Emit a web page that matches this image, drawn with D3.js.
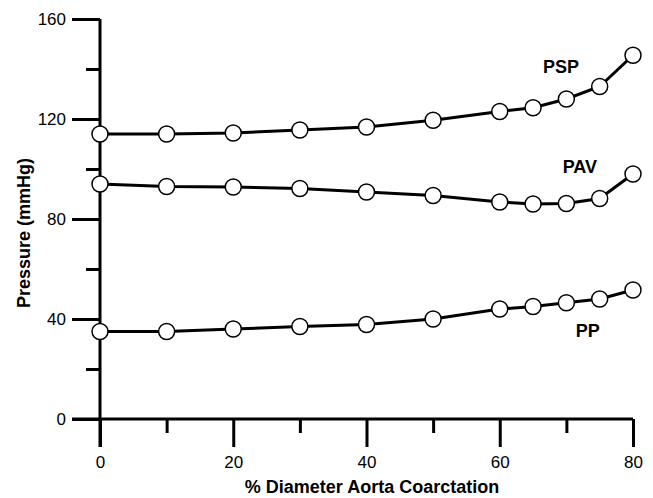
<!DOCTYPE html>
<html>
<head>
<meta charset="utf-8">
<script src="https://cdn.jsdelivr.net/npm/d3@7"></script>
<style>
	body { margin: 0; background: #fff; }
	svg { display: block; font-family: Arial, "Liberation Sans", sans-serif; }
</style>
</head>
<body>
<div id="grafico"></div>
<script>
var coartacion = [0, 10, 20, 30, 40, 50, 60, 65, 70, 75, 80];
var psp = [114, 114, 114.4, 115.6, 116.8, 119.5, 123, 124.5, 128, 133, 145.5];
var pav = [94, 93, 92.8, 92.2, 90.8, 89.4, 86.8, 86, 86.2, 88.2, 98];
var pp = [35, 35, 36, 37, 37.8, 40, 44, 45, 46.5, 48, 51.6];
var nombres = ["PSP", "PAV", "PP"];
var ticksX = [0, 20, 40, 60, 80];
var ticksXmenor = [10, 30, 50, 70];
var ticksY = [0, 40, 80, 120, 160];
var ticksYmenor = [20, 60, 100, 140];

var svgWidth = 653;
var svgHeight = 498;

var svg = d3.select("#grafico")
	.append("svg")
	.attr("width", svgWidth)
	.attr("height", svgHeight);

var x = d3.scaleLinear()
	.domain([0, 80])
	.range([100, 633]);

var y = d3.scaleLinear()
	.domain([0, 160])
	.range([419, 19]);

// ejes
svg.append("g")
	.attr("transform", "translate(0,419)")
	.call(d3.axisBottom(x).tickValues(ticksX).tickSize(28).tickSizeOuter(0).tickPadding(9))
	.call(function(g) {
		g.select(".domain").attr("d", "M72,0H" + x(80)).attr("stroke-width", 3);
		g.selectAll(".tick line").attr("stroke-width", 3);
		g.selectAll(".tick text").attr("font-size", 17).attr("font-family", "Arial, sans-serif").attr("fill", "#000");
	});

svg.append("g")
	.attr("transform", "translate(0,419)")
	.call(d3.axisBottom(x).tickValues(ticksXmenor).tickSize(14).tickFormat(""))
	.call(function(g) {
		g.select(".domain").remove();
		g.selectAll(".tick line").attr("stroke-width", 3);
	});

svg.append("g")
	.attr("transform", "translate(100,0)")
	.call(d3.axisLeft(y).tickValues(ticksY).tickSize(28).tickSizeOuter(0).tickPadding(6))
	.call(function(g) {
		g.select(".domain").attr("d", "M0," + y(160) + "V447").attr("stroke-width", 3);
		g.selectAll(".tick line").attr("stroke-width", 3);
		g.selectAll(".tick text").attr("font-size", 17).attr("font-family", "Arial, sans-serif").attr("fill", "#000");
	});

svg.append("g")
	.attr("transform", "translate(100,0)")
	.call(d3.axisLeft(y).tickValues(ticksYmenor).tickSize(14).tickFormat(""))
	.call(function(g) {
		g.select(".domain").remove();
		g.selectAll(".tick line").attr("stroke-width", 3);
	});

// titulos
svg.append("text")
	.attr("x", 372)
	.attr("y", 493)
	.attr("text-anchor", "middle")
	.attr("font-size", 18)
	.attr("font-weight", "bold")
	.text("% Diameter Aorta Coarctation");

svg.append("text")
	.attr("transform", "translate(30,233) rotate(-90)")
	.attr("text-anchor", "middle")
	.attr("font-size", 18)
	.attr("font-weight", "bold")
	.text("Pressure (mmHg)");

var series = [psp, pav, pp];
var etiquetas = [
	{x: 71.9, y: 138.4},
	{x: 74.6, y: 98.4},
	{x: 75, y: 32.8}
];

var line = d3.line()
	.x(function(d, i) { return x(coartacion[i]); })
	.y(function(d) { return y(d); });

series.forEach(function(s, k) {
	svg.append("path")
		.datum(s)
		.attr("fill", "none")
		.attr("stroke", "#000")
		.attr("stroke-width", 3)
		.attr("d", line);

	svg.selectAll(".p" + k)
		.data(s)
		.enter().append("circle")
		.attr("class", "p" + k)
		.attr("r", 8)
		.attr("cx", function(d, i) { return x(coartacion[i]); })
		.attr("cy", function(d) { return y(d); })
		.attr("fill", "#fff")
		.attr("stroke", "#000")
		.attr("stroke-width", 1.5);

	svg.append("text")
		.attr("x", x(etiquetas[k].x))
		.attr("y", y(etiquetas[k].y))
		.attr("text-anchor", "end")
		.attr("font-size", 18)
		.attr("font-weight", "bold")
		.text(nombres[k]);
});
</script>
</body>
</html>
